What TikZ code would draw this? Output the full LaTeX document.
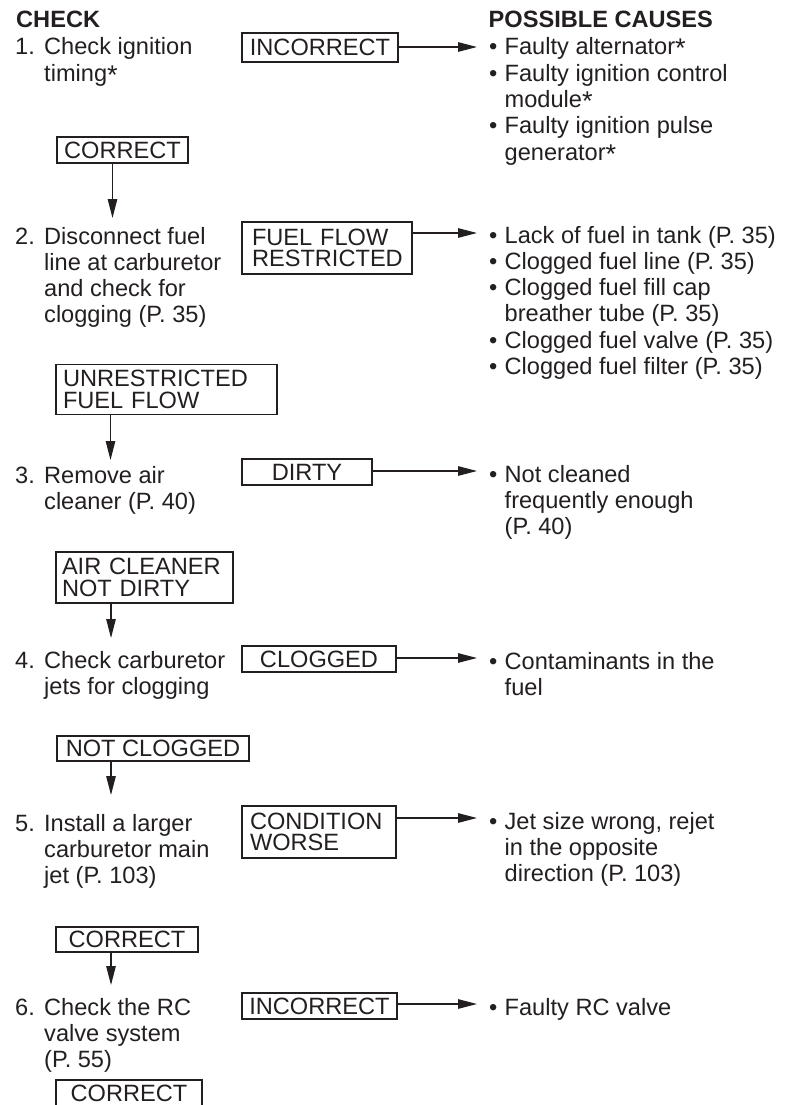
\documentclass[tikz,border=0pt]{standalone}
\usepackage{graphicx}
\usepackage{fontspec}
\setmainfont{Liberation Sans}
\usetikzlibrary{arrows.meta}
\definecolor{ink}{HTML}{231F20}
\newcommand\bodyfont{\fontsize{23.6pt}{26.3pt}\selectfont}
\newcommand\lblfont{\fontsize{23.6pt}{21.5pt}\selectfont}
\newcommand\stepnum[1]{\makebox[29pt][l]{#1}}
\newcommand\bul{\makebox[15.5pt][l]{\textbullet}}
\newcommand\lowstar{\raisebox{-3pt}{\scalebox{1.15}{*}}}
\tikzset{
  txt/.style={inner sep=0pt, text=ink, font=\bodyfont, anchor=base west},
  head/.style={inner sep=0pt, text=ink, font=\bodyfont\bfseries, anchor=base west},
  box/.style={draw=ink, line width=1.1pt, inner ysep=0pt, inner xsep=0pt, text=ink, font=\lblfont},
  box2/.style={box, align=left},
  arr/.style={draw=ink, line width=1.2pt, -{Triangle[length=19pt,width=9.5pt]}},
}
\begin{document}
\begin{tikzpicture}[x=1pt,y=-1pt]
\useasboundingbox (0,0) rectangle (787,1105);
\clip (0,0) rectangle (787,1105);

% headers
\node[head] (hcheck) at (16,28) {CHECK};
\node[head] (hcauses) at (488.5,28) {POSSIBLE CAUSES};

% steps
\node[txt] (s1) at (15,55) {\begin{tabular}[t]{@{}l@{}l@{}}\stepnum{1.}&Check ignition\\&timing\lowstar\end{tabular}};
\node[txt] (s2) at (15,244) {\begin{tabular}[t]{@{}l@{}l@{}}\stepnum{2.}&Disconnect fuel\\&line at carburetor\\&and check for\\&clogging (P. 35)\end{tabular}};
\node[txt] (s3) at (15,483) {\begin{tabular}[t]{@{}l@{}l@{}}\stepnum{3.}&Remove air\\&cleaner (P. 40)\end{tabular}};
\node[txt] (s4) at (15,668) {\begin{tabular}[t]{@{}l@{}l@{}}\stepnum{4.}&Check carburetor\\&jets for clogging\end{tabular}};
\node[txt] (s5) at (15,831) {\begin{tabular}[t]{@{}l@{}l@{}}\stepnum{5.}&Install a larger\\&carburetor main\\&jet (P. 103)\end{tabular}};
\node[txt] (s6) at (15,1015) {\begin{tabular}[t]{@{}l@{}l@{}}\stepnum{6.}&Check the RC\\&valve system\\&(P. 55)\end{tabular}};

% causes
\node[txt] (c1) at (489,55) {\begin{tabular}[t]{@{}l@{}l@{}}\bul&Faulty alternator\lowstar\\\bul&Faulty ignition control\\&module\lowstar\\\bul&Faulty ignition pulse\\&generator\lowstar\end{tabular}};
\node[txt] (c2) at (489,243) {\begin{tabular}[t]{@{}l@{}l@{}}\bul&Lack of fuel in tank (P. 35)\\\bul&Clogged fuel line (P. 35)\\\bul&Clogged fuel fill cap\\&breather tube (P. 35)\\\bul&Clogged fuel valve (P. 35)\\\bul&Clogged fuel filter (P. 35)\end{tabular}};
\node[txt] (c3) at (489,482) {\begin{tabular}[t]{@{}l@{}l@{}}\bul&Not cleaned\\&frequently enough\\&(P. 40)\end{tabular}};
\node[txt] (c4) at (489,669) {\begin{tabular}[t]{@{}l@{}l@{}}\bul&Contaminants in the\\&fuel\end{tabular}};
\node[txt] (c5) at (489,829) {\begin{tabular}[t]{@{}l@{}l@{}}\bul&Jet size wrong, rejet\\&in the opposite\\&direction (P. 103)\end{tabular}};
\node[txt] (c6) at (489,1015) {\begin{tabular}[t]{@{}l@{}l@{}}\bul&Faulty RC valve\end{tabular}};

% result boxes, middle column
\node[box, minimum width=156pt, minimum height=29pt] (inc1) at (320,47.5) {INCORRECT};
\node[box2, text width=150pt, inner xsep=10pt, minimum height=52pt] (ffr) at (327,248) {FUEL FLOW\\RESTRICTED};
\node[box, minimum width=130pt, minimum height=26pt] (dirty) at (307,472) {DIRTY};
\node[box, minimum width=154pt, minimum height=26pt] (clog) at (319,659) {CLOGGED};
\node[box2, text width=138pt, inner xsep=8pt, minimum height=52pt] (cond) at (319,832) {CONDITION\\WORSE};
\node[box, minimum width=155pt, minimum height=26pt] (inc2) at (319.5,1006) {INCORRECT};

% result boxes, left column
\node[box, minimum width=131pt, minimum height=26pt] (cor1) at (122.5,150) {CORRECT};
\node[box2, text width=207pt, inner xsep=7pt, minimum height=50pt] (unr) at (166.5,389.5) {UNRESTRICTED\\FUEL FLOW};
\node[box2, text width=165pt, inner xsep=6pt, minimum height=51pt] (acnd) at (144.5,577.5) {AIR CLEANER\\NOT DIRTY};
\node[box, minimum width=192pt, minimum height=25pt] (notclog) at (153,748.5) {NOT CLOGGED};
\node[box, minimum width=142pt, minimum height=25pt] (cor2) at (127,939.5) {CORRECT};
\node[box, minimum width=146pt, minimum height=26pt] (cor3) at (129,1093) {CORRECT};

% horizontal connectors
\coordinate (h1) at (477,47);
\coordinate (h2) at (477,233);
\coordinate (h3) at (477,471);
\coordinate (h4) at (477,658);
\coordinate (h5) at (477,818);
\coordinate (h6) at (477,1004);
\draw[arr] (inc1.east |- h1) -- (h1);
\draw[arr] (ffr.east |- h2) -- (h2);
\draw[arr] (dirty.east |- h3) -- (h3);
\draw[arr] (clog.east |- h4) -- (h4);
\draw[arr] (cond.east |- h5) -- (h5);
\draw[arr] (inc2.east |- h6) -- (h6);

% vertical connectors
\coordinate (v1) at (112.5,218);
\coordinate (v2) at (110.5,460);
\coordinate (v3) at (111,638);
\coordinate (v4) at (111,795);
\coordinate (v5) at (111,985);
\draw[arr] (cor1.south -| v1) -- (v1);
\draw[arr] (unr.south -| v2) -- (v2);
\draw[arr] (acnd.south -| v3) -- (v3);
\draw[arr] (notclog.south -| v4) -- (v4);
\draw[arr] (cor2.south -| v5) -- (v5);
\end{tikzpicture}
\end{document}
